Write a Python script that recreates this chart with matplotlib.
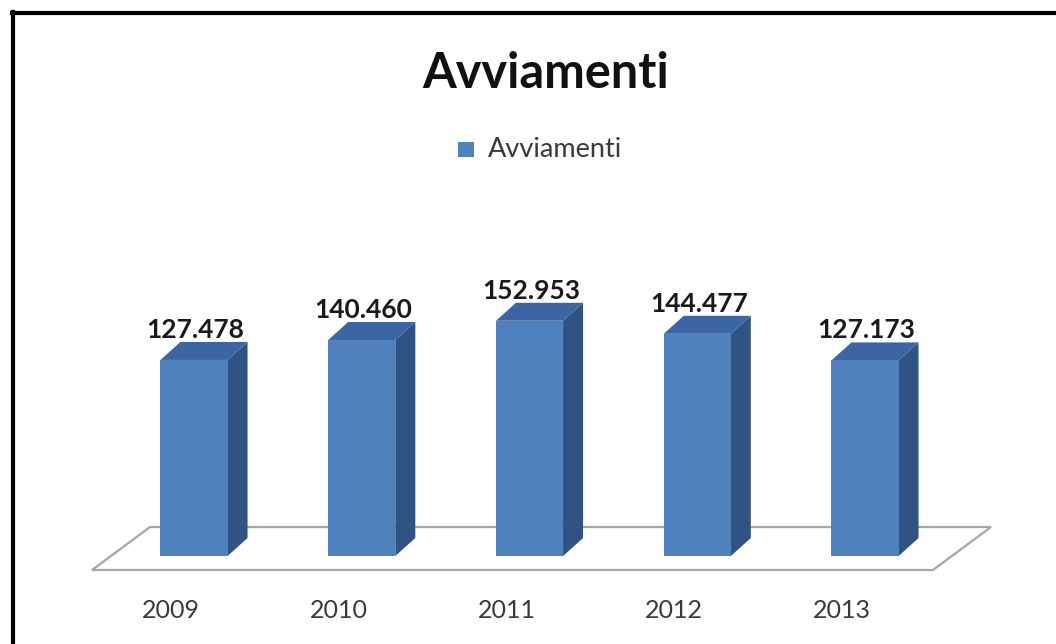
#!/usr/bin/env python3
"""
Avviamenti 2009-2013: Excel-style 3D column chart redrawn with matplotlib.
"""

import numpy as np
import matplotlib
matplotlib.use("Agg")
import matplotlib.pyplot as plt
from matplotlib.patches import Polygon
from matplotlib.lines import Line2D

years = ["2009", "2010", "2011", "2012", "2013"]
values = [127478, 140460, 152953, 144477, 127173]
value_labels = ["127.478", "140.460", "152.953", "144.477", "127.173"]
series_name = "Avviamenti"
title = "Avviamenti"

FRONT = "#4f81bd"
SIDE = "#2f5384"
TOP = "#3b66a3"

plt.rcParams["font.family"] = ["Lato", "DejaVu Sans"]

W, H = 1056, 644
fig = plt.figure(figsize=(W / 100, H / 100), dpi=100)
fig.patch.set_facecolor("white")

# axes cover the whole figure, data limits chosen so the columns land
# where the original chart has them
ax = fig.add_axes([0, 0, 1, 1])
ax.set_xlim(-1.1565, 5.1386)
ax.set_ylim(-57200, 361500)
ax.axis("off")

x = np.arange(len(years))
bw = 0.40

# pixel -> data conversion for the fake depth
px_x = (5.1386 + 1.1565) / W
px_y = (361500 + 57200) / H

# floor plane
fdx, fdy = 58 * px_x, 43 * px_y
f_front = -14 * px_y
fl, fr = -0.608, 4.405
floor = Polygon([(fl, f_front), (fr, f_front), (fr + fdx, f_front + fdy),
                 (fl + fdx, f_front + fdy)], closed=True,
                facecolor="white", edgecolor="#a6a6a6", lw=1.6, zorder=1)
ax.add_patch(floor)

# columns
ddx, ddy = 20 * px_x, 18 * px_y
ax.bar(x, values, width=bw, color=FRONT, edgecolor="none", zorder=3)
for xi, v in zip(x, values):
    r = xi + bw / 2
    l = xi - bw / 2
    side = Polygon([(r, 0), (r + ddx, ddy), (r + ddx, v + ddy), (r, v)],
                   closed=True, facecolor=SIDE, edgecolor="none", zorder=2)
    top = Polygon([(l, v), (r, v), (r + ddx, v + ddy), (l + ddx, v + ddy)],
                  closed=True, facecolor=TOP, edgecolor="none", zorder=2)
    ax.add_patch(side)
    ax.add_patch(top)

for xi, v, lab in zip(x, values, value_labels):
    ax.text(xi + 0.01, v + ddy + 4 * px_y, lab, ha="center", va="baseline",
            fontsize=19, fontweight="bold", color="#1a1a1a", zorder=4)

# category labels sit on the front edge of the floor, a bit left of the bars
for xi, yr in zip(x, years):
    ax.text(xi - 23 * px_x, -62 * px_y, yr, ha="center", va="baseline",
            fontsize=18, color="#3a3a3a")

# title and legend
fig.text(546 / W, 1 - 88 / H, title, ha="center", va="baseline",
         fontsize=35, fontweight="bold", color="#111111")
fig.patches.append(plt.Rectangle((458 / W, 1 - 157 / H), 16 / W, 15 / H,
                                 transform=fig.transFigure, figure=fig,
                                 facecolor=FRONT, edgecolor="none"))
fig.text(488 / W, 1 - 157 / H, series_name, ha="left", va="baseline",
         fontsize=19.5, color="#3a3a3a")

# thick frame, only top and left visible in the crop
fig.add_artist(Line2D([12 / W, 1], [1 - 13 / H, 1 - 13 / H],
                      transform=fig.transFigure, color="black", lw=3,
                      solid_capstyle="projecting"))
fig.add_artist(Line2D([13 / W, 13 / W], [0, 1 - 12 / H],
                      transform=fig.transFigure, color="black", lw=3,
                      solid_capstyle="projecting"))

fig.savefig("out.png", dpi=100)
